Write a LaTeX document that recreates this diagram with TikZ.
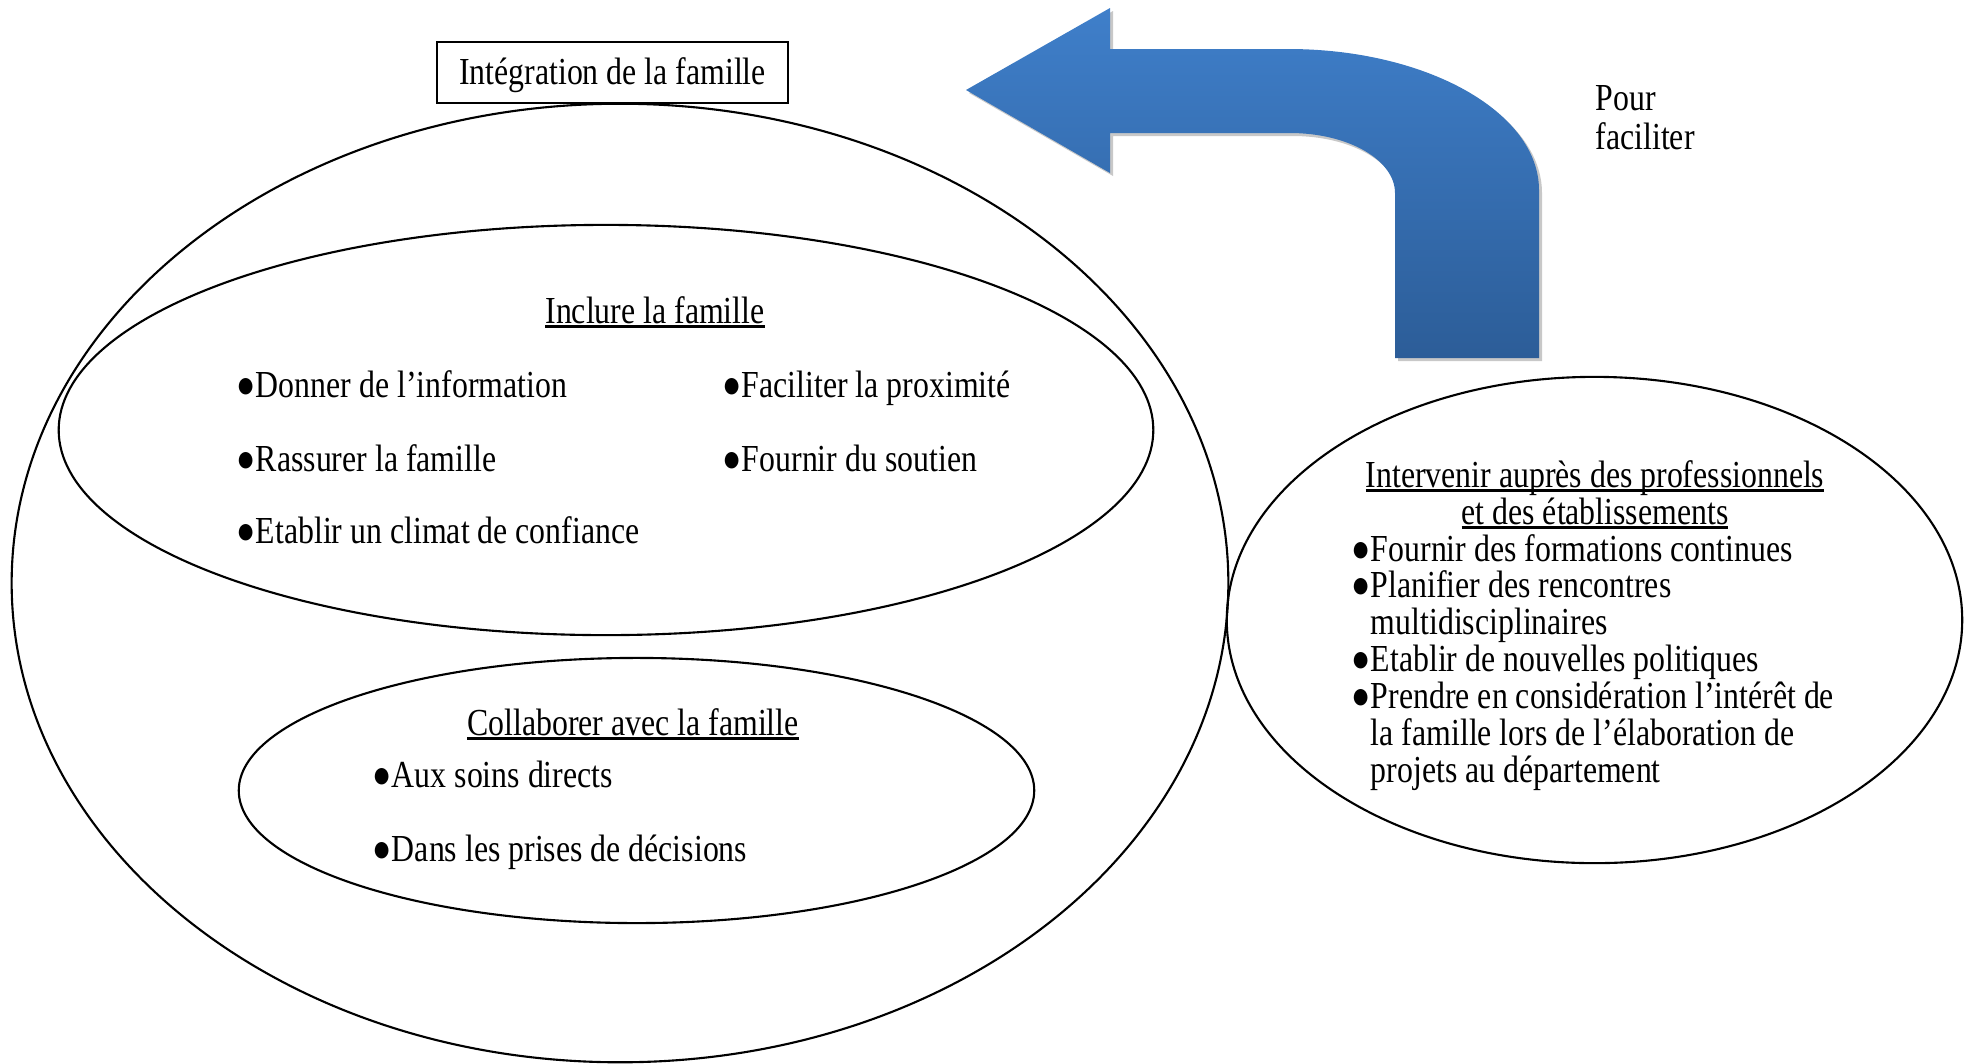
\documentclass[tikz,border=0pt]{standalone}
\usepackage{fontspec}
\setmainfont{Liberation Serif}
\usepackage{graphicx}
\usetikzlibrary{shapes.geometric}
\definecolor{arrtop}{RGB}{63,127,202}
\definecolor{arrbot}{RGB}{44,93,152}
\definecolor{shadowgray}{RGB}{200,200,200}
\newcommand\bul{●}
\newcommand\T[1]{\scalebox{1}[1.2]{#1}}
\newcommand\ulx[1]{\leavevmode\setbox0=\hbox{#1}\rlap{\rule[-0.12em]{\wd0}{0.055em}}\box0}
\begin{document}
\begin{tikzpicture}[x=0.01cm, y=-0.01cm,
  ell/.style={ellipse, draw, line width=0.6pt, inner sep=0pt},
  txt/.style={inner sep=0pt, font=\fontsize{9.05}{10.4}\selectfont},
  bl/.style={txt, anchor=base west},
  ct/.style={txt, anchor=base}]
\useasboundingbox (0,0) rectangle (1969,1063);
% bent arrow: shadow then gradient body
\fill[shadowgray, shift={(3,3)}] (966,90) -- (1110,8) -- (1110,49) -- (1288,49)
  .. controls (1426.6,49) and (1539,112.1) .. (1539,190) -- (1539,358) -- (1395,358)
  -- (1395,193) .. controls (1395,159.9) and (1348,133) .. (1290,133) -- (1110,133)
  -- (1110,173) -- cycle;
\shade[top color=arrtop, bottom color=arrbot] (966,90) -- (1110,8) -- (1110,49) -- (1288,49)
  .. controls (1426.6,49) and (1539,112.1) .. (1539,190) -- (1539,358) -- (1395,358)
  -- (1395,193) .. controls (1395,159.9) and (1348,133) .. (1290,133) -- (1110,133)
  -- (1110,173) -- cycle;
% ellipses
\node[ell, minimum width=12.16cm, minimum height=9.58cm] (outer) at (620,583) {};
\node[ell, minimum width=10.94cm, minimum height=4.10cm] (incl) at (606,430) {};
\node[ell, minimum width=7.95cm, minimum height=2.65cm] (collab) at (636.5,790.5) {};
\node[ell, minimum width=7.35cm, minimum height=4.86cm] (interv) at (1594.5,620) {};
% title box
\node[draw, line width=0.7pt, txt,
  minimum width=3.51cm, minimum height=0.61cm] (title) at (612.5,72.5)
  {\raisebox{-0.74pt}[\height][\depth]{\T{Intégration de la famille}}};
% inclure
\node[ct] (inclT) at (655,323) {\T{\ulx{Inclure la famille}}};
\node[bl] (i1) at (236,397) {\T{\bul Donner de l’information}};
\node[bl] (i2) at (722,397) {\T{\bul Faciliter la proximité}};
\node[bl] (i3) at (236,471) {\T{\bul Rassurer la famille}};
\node[bl] (i4) at (722,471) {\T{\bul Fournir du soutien}};
\node[bl] (i5) at (236,543) {\T{\bul Etablir un climat de confiance}};
% collaborer
\node[ct] (colT) at (633,735) {\T{\ulx{Collaborer avec la famille}}};
\node[bl] (c1) at (372,787) {\T{\bul Aux soins directs}};
\node[bl] (c2) at (372,861) {\T{\bul Dans les prises de décisions}};
% intervenir
\node[ct] (intT1) at (1595,487) {\T{\ulx{Intervenir auprès des professionnels}}};
\node[ct] (intT2) at (1595,524) {\T{\ulx{et des établissements}}};
\node[bl] (r1) at (1351,561) {\T{\bul Fournir des formations continues}};
\node[bl] (r2) at (1351,597.5) {\T{\bul Planifier des rencontres}};
\node[bl] (r3) at (1351,634) {\T{\phantom{\bul}multidisciplinaires}};
\node[bl] (r4) at (1351,671) {\T{\bul Etablir de nouvelles politiques}};
\node[bl] (r5) at (1351,708) {\T{\bul Prendre en considération l’intérêt de}};
\node[bl] (r6) at (1351,745) {\T{\phantom{\bul}la famille lors de l’élaboration de}};
\node[bl] (r7) at (1351,782) {\T{\phantom{\bul}projets au département}};
% pour faciliter
\node[bl] (p1) at (1595,110) {\T{Pour}};
\node[bl] (p2) at (1595,149) {\T{faciliter}};
\end{tikzpicture}
\end{document}
